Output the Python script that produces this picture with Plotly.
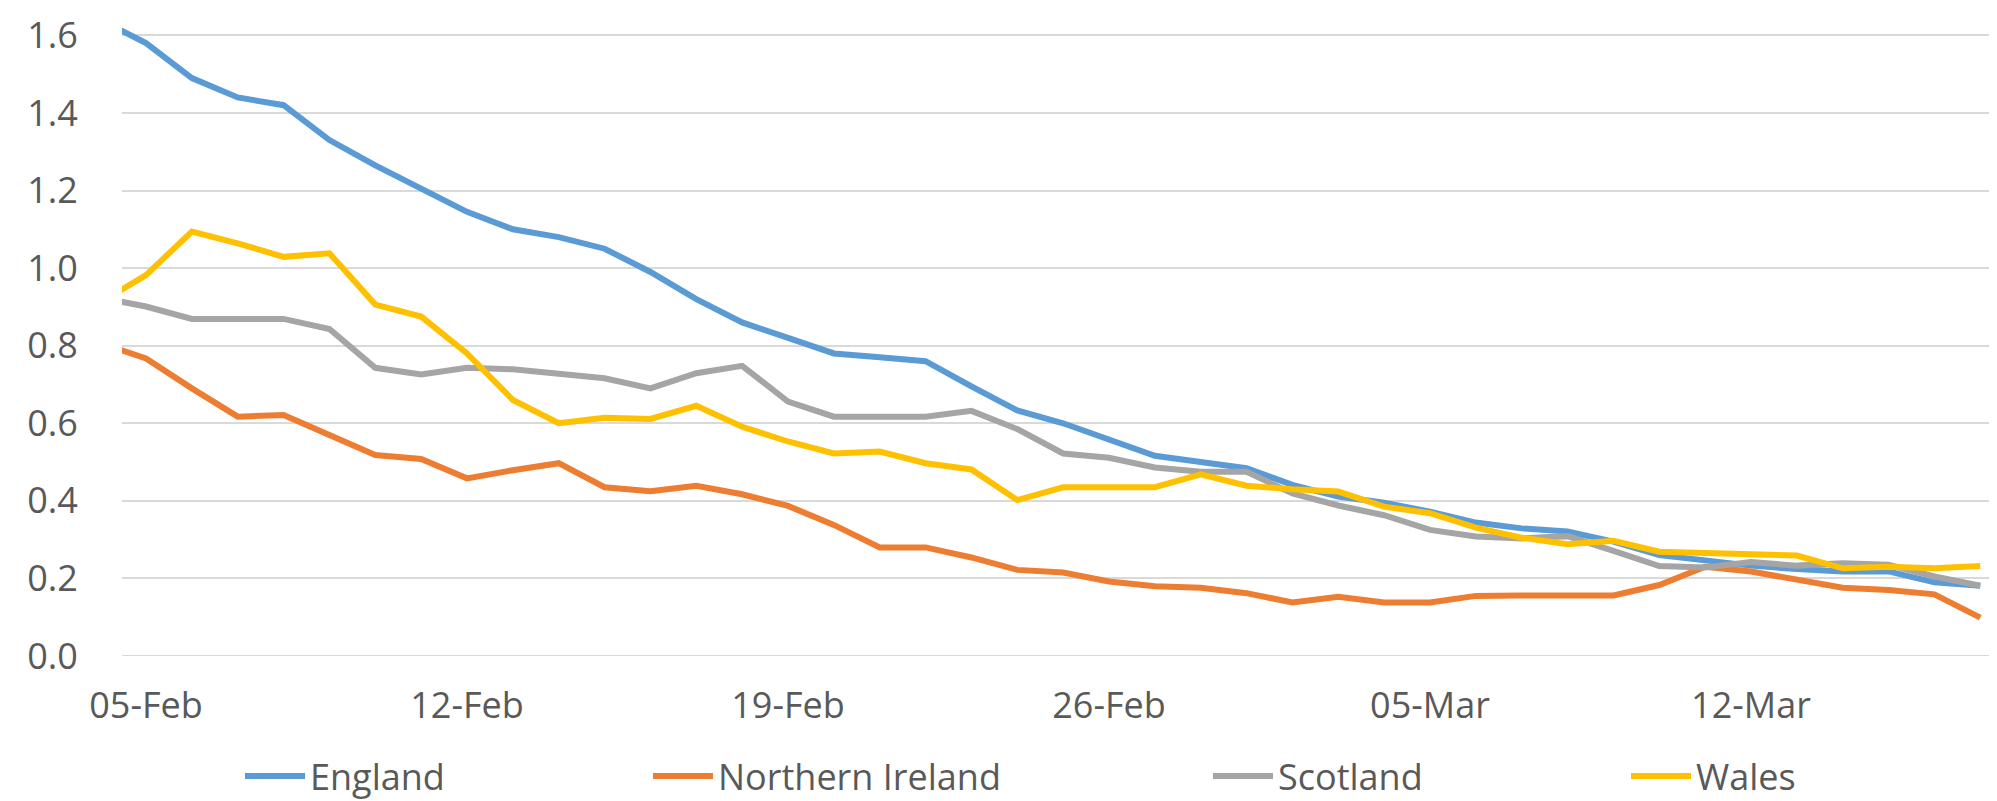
import pandas as pd
import plotly.graph_objects as go

dates = pd.date_range("2021-02-04", "2021-03-17", freq="D")

england = [1.64, 1.58, 1.49, 1.44, 1.42, 1.33, 1.265, 1.205, 1.145, 1.10, 1.08, 1.05, 0.99,
           0.92, 0.86, 0.82, 0.78, 0.77, 0.76, 0.695, 0.633, 0.60, 0.557, 0.516, 0.50,
           0.484, 0.441, 0.411, 0.395, 0.372, 0.344, 0.329, 0.321, 0.295, 0.26, 0.247,
           0.233, 0.224, 0.218, 0.218, 0.19, 0.181]
northern_ireland = [0.807, 0.767, 0.69, 0.617, 0.621, 0.57, 0.518, 0.508, 0.458, 0.479, 0.497,
                    0.435, 0.425, 0.439, 0.417, 0.387, 0.338, 0.28, 0.28, 0.254, 0.222, 0.215,
                    0.192, 0.18, 0.176, 0.162, 0.138, 0.153, 0.138, 0.138, 0.155, 0.156, 0.156,
                    0.156, 0.183, 0.23, 0.218, 0.196, 0.176, 0.17, 0.159, 0.099]
scotland = [0.924, 0.901, 0.869, 0.869, 0.869, 0.843, 0.743, 0.726, 0.743, 0.739, 0.726, 0.716,
            0.69, 0.729, 0.748, 0.656, 0.617, 0.617, 0.617, 0.632, 0.585, 0.522, 0.511, 0.486,
            0.475, 0.475, 0.419, 0.388, 0.363, 0.325, 0.308, 0.303, 0.309, 0.271, 0.232, 0.228,
            0.242, 0.233, 0.239, 0.235, 0.205, 0.181]
wales = [0.911, 0.982, 1.094, 1.064, 1.029, 1.038, 0.906, 0.875, 0.78, 0.66, 0.60, 0.614, 0.611,
         0.645, 0.591, 0.553, 0.522, 0.527, 0.497, 0.481, 0.402, 0.435, 0.435, 0.435, 0.468,
         0.439, 0.43, 0.424, 0.385, 0.368, 0.331, 0.305, 0.288, 0.297, 0.269, 0.265, 0.264,
         0.259, 0.226, 0.23, 0.226, 0.232]

series = [
    ("England", england, "#5B9BD5", "legend"),
    ("Northern Ireland", northern_ireland, "#ED7D31", "legend2"),
    ("Scotland", scotland, "#A5A5A5", "legend3"),
    ("Wales", wales, "#FFC000", "legend4"),
]

FONT = "Open Sans"
TXT = "#595959"

fig = go.Figure()
for name, vals, color, leg in series:
    fig.add_trace(go.Scatter(x=dates, y=vals, name=name, mode="lines", showlegend=True,
                             line=dict(color=color, width=6), legend=leg))

W, H = 1997, 801
L, R, T, B = 114, 5, 0, 153
pw = W - L - R
ph = H - T - B


def legx(px):
    return (px - L) / pw


legy = -(768 - ph) / ph
leg_common = dict(orientation="h", yanchor="middle", xanchor="left", y=legy,
                  bgcolor="rgba(0,0,0,0)", font=dict(family=FONT, size=36, color=TXT),
                  itemwidth=60, visible=True)

fig.update_layout(
    width=W, height=H,
    showlegend=True,
    margin=dict(l=L, r=R, t=T, b=B),
    paper_bgcolor="white", plot_bgcolor="white",
    legend=dict(x=legx(232), **leg_common),
    legend2=dict(x=legx(640), **leg_common),
    legend3=dict(x=legx(1200), **leg_common),
    legend4=dict(x=legx(1618), **leg_common),
    xaxis=dict(type="date", range=["2021-02-04 11:26", "2021-03-17 10:20"],
               tick0="2021-02-05", dtick=7 * 86400000, tickformat="%d-%b",
               showgrid=False, zeroline=False, showline=False,
               ticks="outside", ticklen=18, tickcolor="rgba(0,0,0,0)",
               tickfont=dict(family=FONT, size=36, color=TXT)),
    yaxis=dict(range=[0, ph / 387.9], dtick=0.2, tick0=0, tickformat=".1f",
               showgrid=True, gridcolor="#d9d9d9", gridwidth=2, zeroline=False,
               ticks="outside", ticklen=36, tickcolor="rgba(0,0,0,0)",
               tickfont=dict(family=FONT, size=36, color=TXT)),
)
fig.add_hline(y=0, line=dict(color="#d9d9d9", width=2))

fig.write_html("out.html")
